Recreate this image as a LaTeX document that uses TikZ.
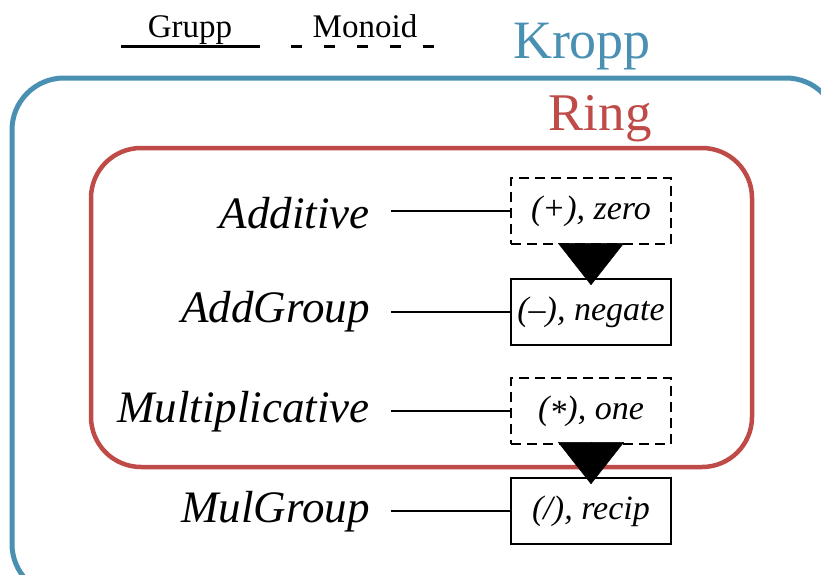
\documentclass[tikz,border=0pt]{standalone}
\usepackage{fontspec}
\setmainfont{Liberation Serif}
\usetikzlibrary{arrows.meta}

\definecolor{kroppblue}{RGB}{74,144,178}
\definecolor{ringred}{RGB}{190,75,72}

\tikzset{
  classlabel/.style={anchor=base east, inner xsep=21pt, inner ysep=0pt, font=\fontsize{45}{54}\selectfont\itshape},
  opbox/.style={draw, line width=1.6pt, minimum width=160pt, minimum height=66pt, inner sep=0pt, font=\fontsize{34}{40}\selectfont\itshape},
  monoidbox/.style={opbox, dash pattern=on 10pt off 6pt},
  grupparrow/.style={-{Triangle[length=42pt,width=66pt]}, line width=0.5pt, shorten >=-7pt},
}

\begin{document}
\begin{tikzpicture}[x=1pt, y=-1pt]
        \clip (0,0) rectangle (821,574);

        % Legend
        \coordinate (gl) at (121,46);
        \coordinate (gr) at (260,46);
        \coordinate (ml) at (291,46);
        \coordinate (mr) at (440,46);
        \draw[line width=3pt] (gl) -- (gr);
        \draw[line width=3pt, dash pattern=on 11pt off 22pt] (ml) -- (mr);
        \node[anchor=base, font=\fontsize{33}{40}\selectfont] (grupp) at (190,37) {Grupp};
        \node[anchor=base, font=\fontsize{33}{40}\selectfont] (monoid) at (365,37) {Monoid};

        % Kropp and Ring frames
        \draw[kroppblue, line width=5pt, rounded corners=52pt] (12,78) rectangle (838,596);
        \node[kroppblue, anchor=base, font=\fontsize{54}{60}\selectfont] (kropp) at (582,58) {Kropp};
        \draw[ringred, line width=4.5pt, rounded corners=50pt] (91,148) rectangle (752,467);
        \node[ringred, anchor=base, font=\fontsize{53}{60}\selectfont] (ring) at (600,130) {Ring};

        % Classes
        \node[classlabel] (additive) at (391,228) {Additive};
        \node[classlabel] (addgroup) at (391,322) {AddGroup};
        \node[classlabel] (multiplicative) at (391,422) {Multiplicative};
        \node[classlabel] (mulgroup) at (391,522) {MulGroup};

        % Operations
        \node[monoidbox] (plus) at (591,211) {(+), zero};
        \node[opbox] (minus) at (591,312) {(–), negate};
        \node[monoidbox] (times) at (591,411) {(\raisebox{-0.3ex}{*}), one};
        \node[opbox] (divide) at (591,511) {(/), recip};

        % Lines from classes to operations
        \draw[line width=1.2pt] (additive.east |- plus) -- (plus.west);
        \draw[line width=1.2pt] (addgroup.east |- minus) -- (minus.west);
        \draw[line width=1.2pt] (multiplicative.east |- times) -- (times.west);
        \draw[line width=1.2pt] (mulgroup.east |- divide) -- (divide.west);

        % Monoid to group
        \draw[grupparrow] (plus.south) -- (minus.north);
        \draw[grupparrow] (times.south) -- (divide.north);
      \end{tikzpicture}
\end{document}
